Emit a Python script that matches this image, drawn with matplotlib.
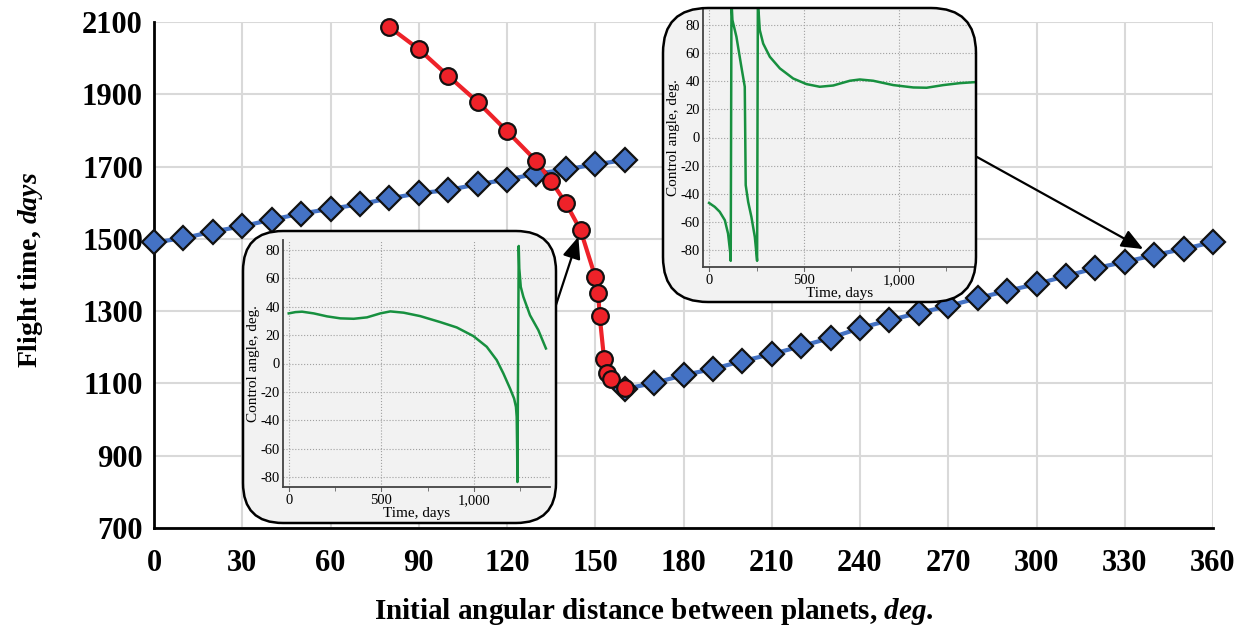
import matplotlib
matplotlib.use("Agg")
import matplotlib.pyplot as plt
from matplotlib.patches import FancyBboxPatch
from matplotlib.transforms import IdentityTransform
from matplotlib.ticker import MultipleLocator

plt.rcParams['font.family'] = 'Liberation Serif'
plt.rcParams['mathtext.fontset'] = 'custom'
plt.rcParams['mathtext.rm'] = 'Liberation Serif:bold'
plt.rcParams['mathtext.bf'] = 'Liberation Serif:bold'
plt.rcParams['mathtext.it'] = 'Liberation Serif:italic:bold'

# Main chart data
blue_a_x = [0, 10, 20, 30, 40, 50, 60, 70, 80, 90, 100, 110, 120, 130, 140, 150, 160]
blue_a_y = [1490, 1502, 1520, 1535, 1553, 1570, 1583, 1596, 1612, 1626, 1635, 1651,
            1664, 1680, 1692, 1706, 1718]

blue_b_x = [160, 170, 180, 190, 200, 210, 220, 230, 240, 250, 260, 270, 280, 290, 300,
            310, 320, 330, 340, 350, 360]
blue_b_y = [1085, 1101, 1123, 1140, 1162, 1181, 1203, 1226, 1253, 1275, 1295, 1314,
            1336, 1356, 1375, 1397, 1419, 1436, 1455, 1472, 1491]

red_x = [80, 90, 100, 110, 120, 130, 135, 140, 145, 150, 151, 151.5, 153, 154, 155.5, 160]
red_y = [2086, 2025, 1951, 1879, 1798, 1715, 1660, 1599, 1524, 1395, 1350, 1287,
         1168, 1129, 1112, 1087]

x_ticks = list(range(0, 361, 30))
y_ticks = list(range(700, 2101, 200))

# Inset 1: control angle for the 145 deg case
ins1_t = [0, 36, 72, 135, 207, 279, 351, 423, 495, 549, 621, 710, 818, 908, 998, 1070,
          1124, 1160, 1196, 1218, 1228, 1232, 1234, 1236, 1243, 1246, 1254, 1268, 1304,
          1349, 1390]
ins1_v = [35.3, 36.2, 36.5, 35.3, 33.2, 31.8, 31.5, 32.5, 35.3, 36.7, 35.8, 33.4, 29.2,
          25.4, 19.3, 11.8, 2.4, -7, -17.6, -24.7, -30.6, -37.6, -56.5, -83.5, 82.8, 67,
          54, 47, 34, 23.5, 10.6]

# Inset 2: control angle for the 340 deg case
ins2_t = [0, 30, 56, 83, 100, 112, 114, 118, 123, 144, 170, 188, 193, 206, 223, 241, 253,
          257, 267, 285, 320, 373, 443, 513, 583, 654, 742, 794, 864, 970, 1076, 1146,
          1234, 1322, 1401]
ins2_v = [-46.7, -49.5, -53, -59, -68.6, -82.9, -88, 98, 83.8, 71.9, 50.5, 36.2, -34, -46,
          -56.7, -71, -88, 98, 76.7, 67, 57.6, 49.3, 42.1, 38.1, 36.2, 37.1, 40.5, 41.4,
          40.5, 37.4, 35.7, 35.5, 37.4, 38.8, 39.5]

W, H = 1239, 634


def px_rect(x0, y0, x1, y1):
    # pixel box (top-left origin) -> figure fraction [left, bottom, width, height]
    return [x0 / W, 1 - y1 / H, (x1 - x0) / W, (y1 - y0) / H]


fig = plt.figure(figsize=(W / 100, H / 100), dpi=100)
ax = fig.add_axes(px_rect(154, 22, 1213, 528))

blue = '#4472C4'
red = '#EE2229'
ax.plot(blue_a_x, blue_a_y, color=blue, lw=3, marker='D', ms=12, mfc=blue,
        mec='#111111', mew=1.6, clip_on=False, zorder=3)
ax.plot(blue_b_x, blue_b_y, color=blue, lw=3, marker='D', ms=12, mfc=blue,
        mec='#111111', mew=1.6, clip_on=False, zorder=3)
ax.plot(red_x, red_y, color=red, lw=3, marker='o', ms=12, mfc=red,
        mec='#111111', mew=1.6, clip_on=False, zorder=4)

ax.set_xlim(0, 360)
ax.set_ylim(700, 2100)
ax.set_xticks(x_ticks, labels=[str(v) for v in x_ticks], fontsize=22, fontweight='bold')
ax.set_yticks(y_ticks, labels=[str(v) for v in y_ticks], fontsize=22, fontweight='bold')
ax.tick_params(axis='x', length=0, pad=15)
ax.tick_params(axis='y', length=0, pad=8)
ax.grid(color='#d9d9d9', lw=1.5)
ax.set_axisbelow(True)
for s in ['top', 'right']:
    ax.spines[s].set_visible(False)
for s in ['left', 'bottom']:
    ax.spines[s].set_linewidth(2)
    ax.spines[s].set_color('black')

ax.set_xlabel(r'Initial angular distance between planets, $\mathit{deg.}$',
              fontsize=21, fontweight='bold', va='center')
ax.xaxis.set_label_coords(0.472, -0.166)
ax.set_ylabel(r'Flight time, $\mathit{days}$', fontsize=20, fontweight='bold',
              va='center', ha='center')
ax.yaxis.set_label_coords(-0.117, 0.51)

# Arrows from the insets to their points
arrow_kw = dict(arrowstyle='-|>,head_length=0.6,head_width=0.25', color='black',
                lw=1.6, mutation_scale=22, shrinkA=0)
ax.annotate('', xy=(red_x[8], red_y[8]), xytext=(555, H - 308), textcoords='figure pixels',
            arrowprops=dict(shrinkB=5, **arrow_kw))
ax.annotate('', xy=(blue_b_x[18], blue_b_y[18]), xytext=(977, H - 157),
            textcoords='figure pixels', arrowprops=dict(shrinkB=9, **arrow_kw))


def make_inset(box, axbox, rounding, t, v, xlim, ylim):
    x0, y0, x1, y1 = box
    bg = FancyBboxPatch((x0, H - y1), x1 - x0, y1 - y0,
                        boxstyle=f'round,pad=0,rounding_size={rounding}',
                        transform=IdentityTransform(), fc='#f2f2f2', ec='none', zorder=4)
    fig.add_artist(bg)
    border = FancyBboxPatch((x0, H - y1), x1 - x0, y1 - y0,
                            boxstyle=f'round,pad=0,rounding_size={rounding}',
                            transform=IdentityTransform(), fc='none', ec='black',
                            lw=1.8, zorder=6)
    fig.add_artist(border)

    iax = fig.add_axes(px_rect(*axbox), zorder=5)
    iax.patch.set_visible(False)
    line, = iax.plot(t, v, color='#17903F', lw=1.8)
    iax.set_xlim(*xlim)
    iax.set_ylim(*ylim)
    iax.set_xticks([0, 500, 1000], labels=['0', '500', '1,000'], fontsize=10.5)
    iax.xaxis.set_minor_locator(MultipleLocator(250))
    iax.set_yticks(range(-80, 81, 20), labels=[str(k) for k in range(-80, 81, 20)],
                   fontsize=10.5)
    iax.tick_params(axis='x', which='both', length=3, color='#666666', pad=2)
    iax.tick_params(axis='y', length=0, pad=2)
    iax.grid(True, ls=':', color='#a0a0a0', lw=0.8)
    for s in ['top', 'right']:
        iax.spines[s].set_visible(False)
    for s in ['left', 'bottom']:
        iax.spines[s].set_color('#444444')
        iax.spines[s].set_linewidth(1.3)
    iax.set_xlabel('Time, days', fontsize=11, labelpad=0)
    iax.set_ylabel('Control angle, deg.', fontsize=11, labelpad=1)

    # keep everything inside the rounded box
    line.set_clip_path(bg)
    for sp in iax.spines.values():
        sp.set_clip_path(bg)
    for tk in (iax.xaxis.get_major_ticks() + iax.xaxis.get_minor_ticks()
               + iax.yaxis.get_major_ticks()):
        tk.gridline.set_clip_path(bg)
        tk.tick1line.set_clip_path(bg)
        tk.label1.set_clip_path(bg)
    return iax


make_inset((243, 231, 556, 523), (283, 240, 550, 487), 40, ins1_t, ins1_v,
           (-31, 1412), (-87, 87))
make_inset((663, 8, 976, 302), (703, 8, 976, 267), 45, ins2_t, ins2_v,
           (-32, 1406), (-92.4, 92.4))

fig.savefig('out.png', dpi=100)
